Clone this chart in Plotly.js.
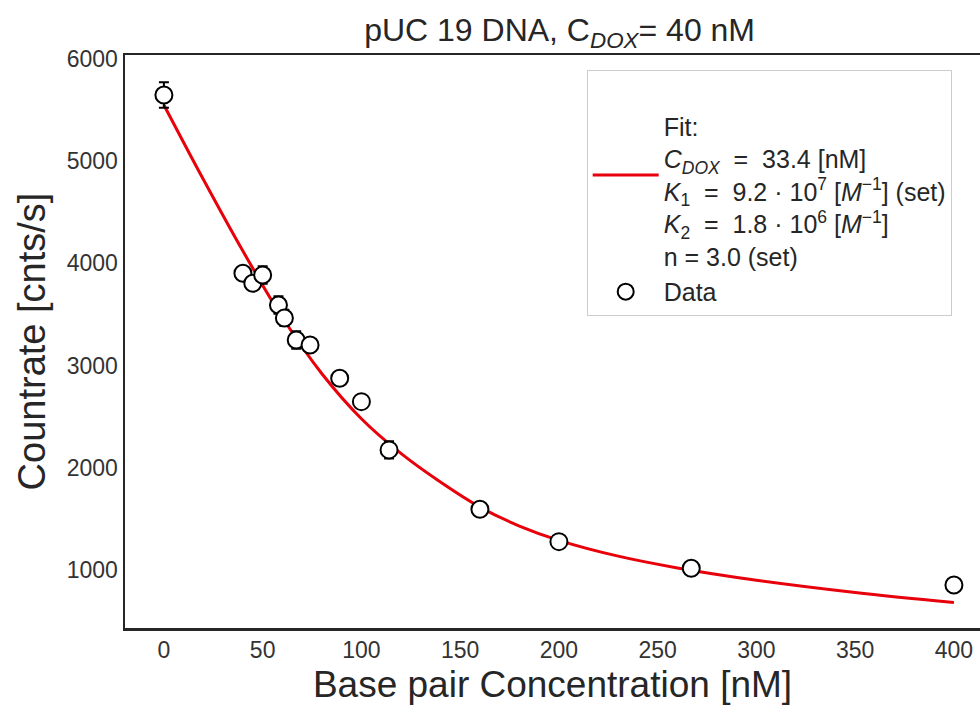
<!DOCTYPE html>
<html>
<head>
<meta charset="utf-8">
<script src="https://cdn.plot.ly/plotly-3.0.1.min.js"></script>
<style>html,body{margin:0;padding:0;background:#fff;}#chart{width:980px;height:708px;}</style>
</head>
<body>
<div id="chart"></div>
<script>
// Measured data (base pair concentration [nM], countrate [cnts/s])
const dataX = [0, 40, 45, 50, 58, 61, 67, 74, 89, 100, 114, 160, 200, 267, 400];
const dataY = [5648, 3903, 3805, 3886, 3593, 3466, 3250, 3201, 2876, 2647, 2175, 1594, 1277, 1017, 853];
const dataErr = [125, 60, 60, 85, 85, 80, 85, 60, 50, 50, 85, 50, 50, 40, 40];

// Fit curve
const fitX = [0, 20, 40, 60, 80, 100, 120, 140, 160, 180, 200, 230, 260, 300, 350, 400];
const fitY = [5550, 4820, 4120, 3470, 2920, 2480, 2140, 1860, 1615, 1430, 1290, 1135, 1020, 900, 780, 681];

const xTicks = [0, 50, 100, 150, 200, 250, 300, 350, 400];
const yTicks = [1000, 2000, 3000, 4000, 5000, 6000];

const sp = '\u00A0';
const eq = sp + ' = ' + sp;
const dot = sp + '·' + sp;
const fitLabel = '<br>Fit:<br><i>C</i><sub><i>DOX</i></sub>' + eq + '33.4 [nM]<br>' +
  '<i>K</i><sub>1</sub>' + eq + '9.2' + dot + '10<sup>7</sup> [<i>M</i><sup>−1</sup>] (set)<br>' +
  '<i>K</i><sub>2</sub>' + eq + '1.8' + dot + '10<sup>6</sup> [<i>M</i><sup>−1</sup>]<br>' +
  'n = 3.0 (set)';

const font = 'Liberation Sans, Arial, sans-serif';
const ink = '#262626';

const traces = [
  {
    x: fitX, y: fitY, type: 'scatter', mode: 'lines',
    line: {color: '#e8000b', width: 3, shape: 'spline', smoothing: 1},
    name: fitLabel
  },
  {
    x: dataX, y: dataY, type: 'scatter', mode: 'markers',
    marker: {size: 17, color: '#ffffff', line: {color: '#000000', width: 2}},
    error_y: {type: 'data', array: dataErr, visible: true, color: '#000000', thickness: 2, width: 5},
    name: 'Data'
  }
];

const layout = {
  width: 980, height: 708,
  margin: {l: 125, r: 0, t: 55, b: 80},
  paper_bgcolor: '#ffffff', plot_bgcolor: '#ffffff',
  font: {family: font, color: ink},
  title: {text: 'pUC 19 DNA, C<sub><i>DOX</i></sub>= 40 nM', font: {size: 32, family: font, color: ink},
          x: 0.571, xanchor: 'center', y: 0.958, yanchor: 'middle'},
  xaxis: {
    range: [-19.7, 413.2], tickvals: xTicks, ticktext: xTicks.map(String),
    showgrid: false, zeroline: false, showline: true, mirror: true,
    linecolor: ink, linewidth: 2.5, ticks: '',
    tickfont: {size: 23, color: '#333333'},
    title: {text: 'Base pair Concentration [nM]', font: {size: 37, color: ink}, standoff: 9}
  },
  yaxis: {
    range: [432, 6039], tickvals: yTicks, ticktext: yTicks.map(String),
    showgrid: false, zeroline: false, showline: true,
    linecolor: ink, linewidth: 2.5, ticks: '',
    tickfont: {size: 23, color: '#333333'},
    title: {text: 'Countrate [cnts/s]', font: {size: 38, color: ink}, standoff: 10}
  },
  showlegend: true,
  legend: {
    x: 0.540, y: 0.974, xanchor: 'left', yanchor: 'top',
    bgcolor: '#ffffff', bordercolor: '#cccccc', borderwidth: 1,
    font: {size: 25, color: ink, family: font},
    itemwidth: 66, tracegroupgap: 4, valign: 'middle'
  }
};

Plotly.newPlot('chart', traces, layout, {displayModeBar: false, staticPlot: true});
</script>
</body>
</html>
